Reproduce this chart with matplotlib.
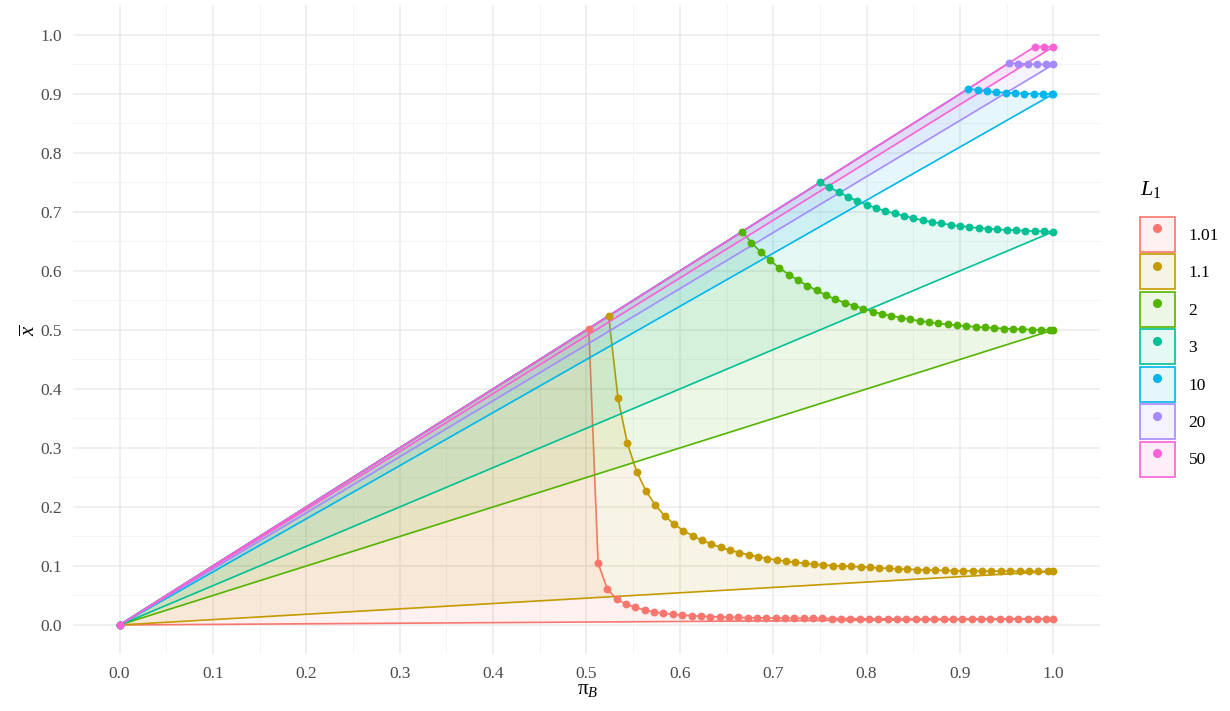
import numpy as np
import matplotlib
matplotlib.use("Agg")
import matplotlib.pyplot as plt
from matplotlib.colors import to_rgba
from matplotlib.patches import Patch
from matplotlib.lines import Line2D

plt.rcParams["font.family"] = ["Liberation Serif", "DejaVu Serif"]
plt.rcParams["mathtext.fontset"] = "custom"
plt.rcParams["mathtext.rm"] = "Liberation Serif"
plt.rcParams["mathtext.it"] = "Liberation Serif:italic"

levels = ["1.01", "1.1", "2", "3", "10", "20", "50"]
colors = ["#F8766D", "#C49A00", "#53B400", "#00C094", "#00B6EB", "#A58AFF", "#FB61D7"]

# pi_B where each curve starts (top corner), then steps of 0.01 up to 1
peak_pi = [0.5025, 0.5238, 0.6667, 0.75, 0.9091, 0.9524, 0.9804]

xbar_101 = [0.5025, 0.1045, 0.0605, 0.044, 0.035, 0.030, 0.0252, 0.022, 0.0198, 0.018,
            0.0168, 0.0158, 0.0149, 0.0142, 0.0136, 0.0131, 0.0127, 0.0124, 0.0121, 0.0119,
            0.0117, 0.0115, 0.0114, 0.0112, 0.0111, 0.011, 0.0109, 0.0108, 0.0107, 0.0106,
            0.0105, 0.0104, 0.0104, 0.0103, 0.0102, 0.0102, 0.0101, 0.0101, 0.0101, 0.0100,
            0.0100, 0.0100, 0.0100, 0.0099, 0.0099, 0.0099, 0.0099, 0.0099, 0.0099, 0.0099,
            0.0099]
xbar_11 = [0.5238, 0.384, 0.308, 0.260, 0.227, 0.203, 0.185, 0.171, 0.160, 0.151,
           0.1435, 0.137, 0.1316, 0.1266, 0.1226, 0.119, 0.1158, 0.1124, 0.1102, 0.108,
           0.1062, 0.1045, 0.1034, 0.1017, 0.1006, 0.1000, 0.0993, 0.0985, 0.0975, 0.0967,
           0.0958, 0.0951, 0.0945, 0.0939, 0.0934, 0.0929, 0.0925, 0.0921, 0.0918, 0.0916,
           0.0914, 0.0913, 0.0912, 0.0911, 0.0910, 0.0910, 0.0909, 0.0909, 0.0909]
xbar_2 = [0.6667, 0.648, 0.632, 0.618, 0.605, 0.594, 0.584, 0.575, 0.567, 0.559,
          0.552, 0.546, 0.541, 0.536, 0.531, 0.527, 0.524, 0.521, 0.518, 0.5155,
          0.5133, 0.5113, 0.5095, 0.508, 0.5066, 0.5054, 0.5043, 0.5034, 0.5025, 0.5018,
          0.5012, 0.5007, 0.5003, 0.5001, 0.5]
xbar_3 = [0.75, 0.742, 0.734, 0.726, 0.7186, 0.7124, 0.7068, 0.7017, 0.6977, 0.6935,
          0.6895, 0.686, 0.683, 0.6806, 0.6783, 0.6763, 0.6745, 0.673, 0.6717, 0.6706,
          0.6697, 0.669, 0.6683, 0.6677, 0.6671, 0.6667]
xbar_10 = [0.9091, 0.9066, 0.9046, 0.9032, 0.9021, 0.9013, 0.9008, 0.9004, 0.9002, 0.9001, 0.9]
xbar_20 = [0.9524, 0.9514, 0.9508, 0.9504, 0.9501, 0.95]
xbar_50 = [0.9804, 0.9801, 0.98]

curves = [xbar_101, xbar_11, xbar_2, xbar_3, xbar_10, xbar_20, xbar_50]

fig = plt.figure(figsize=(12.3, 7.11), dpi=100)
ax = fig.add_axes([0.0593, 0.0795, 0.835, 0.9128])

for start, vals, col in zip(peak_pi, curves, colors):
    pi = np.append(start + 0.01 * np.arange(len(vals) - 1), 1.0)
    xs = np.concatenate([[0.0], pi])
    ys = np.concatenate([[0.0], vals])
    ax.fill(xs, ys, facecolor=to_rgba(col, 0.1), edgecolor=col, lw=1.2, zorder=2)

for start, vals, col in zip(peak_pi, curves, colors):
    pi = np.append(start + 0.01 * np.arange(len(vals) - 1), 1.0)
    ax.scatter(np.concatenate([[0.0], pi]), np.concatenate([[0.0], vals]),
               s=32, color=col, lw=0, zorder=3)

ax.set_xlim(-0.05, 1.05)
ax.set_ylim(-0.05, 1.05)
ticks = np.round(np.arange(0, 1.01, 0.1), 1)
ax.set_xticks(ticks)
ax.set_yticks(ticks)
ax.set_xticks(ticks[:-1] + 0.05, minor=True)
ax.set_yticks(ticks[:-1] + 0.05, minor=True)
ax.set_xticklabels([f"{t:.1f}" for t in ticks])
ax.set_yticklabels([f"{t:.1f}" for t in ticks])
ax.grid(which="major", color="#EBEBEB", lw=1.1, zorder=0)
ax.grid(which="minor", color="#F2F2F2", lw=0.6, zorder=0)
ax.tick_params(which="both", length=0, labelsize=12.5, labelcolor="#4D4D4D", pad=8)
for s in ax.spines.values():
    s.set_visible(False)
ax.set_axisbelow(True)

fig.text(0.478, 0.03, r"π$_B$", ha="center", va="center", fontsize=15)
fig.text(0.0244, 0.536, r"$\overline{x}$", ha="center", va="center", fontsize=15, rotation=90)

# legend: coloured boxes with a dot, title set apart above them
fig.text(0.9268, 1 - 190 / 711, r"$L_1$", ha="left", va="center", fontsize=16)
handles = [(Patch(facecolor=to_rgba(c, 0.1), edgecolor=c, lw=1.2),
            Line2D([], [], ls="", marker="o", ms=5.5, color=c)) for c in colors]
fig.legend(handles, levels, loc="upper left", bbox_to_anchor=(0.9268, 1 - 217 / 711),
           frameon=False, fontsize=12.5, handlelength=2.0, handleheight=2.72,
           labelspacing=0.145, handletextpad=0.8, borderpad=0, borderaxespad=0)

fig.savefig("out.png", dpi=100)
